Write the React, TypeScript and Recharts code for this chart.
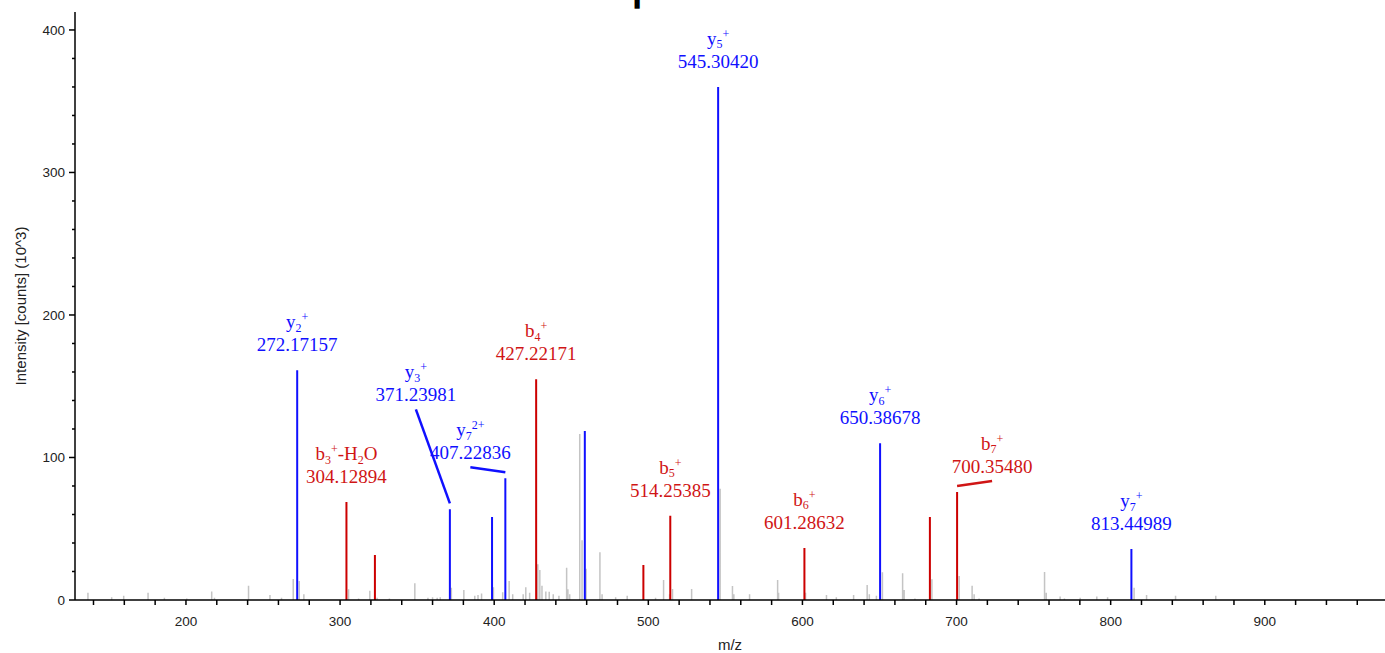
import { ComposedChart, Line, Scatter, XAxis, YAxis, Label } from "recharts";

// unassigned peaks (grey)
const grayMz = [
  136.4, 151.8, 159.6, 175.4, 186.0, 200.5, 216.7, 218.5, 240.6, 254.5, 262.0, 269.6, 273.5, 276.5,
  305.5, 312.0, 319.3, 324.0, 332.0, 348.5, 357.0, 360.0, 363.0, 365.0, 372.2, 380.3, 387.4, 389.5,
  391.8, 399.5, 405.5, 409.7, 412.0, 418.8, 420.5, 423.0, 428.3, 429.6, 431.0, 433.5, 435.7, 438.3,
  442.0, 447.0, 447.8, 449.0, 455.5, 457.0, 459.6, 468.6, 470.0, 478.8, 486.3, 504.7, 509.9, 513.8,
  515.7, 528.1, 546.6, 554.6, 555.5, 565.7, 583.9, 584.5, 602.0, 615.6, 622.0, 633.2, 642.0, 643.4,
  648.0, 651.9, 665.0, 666.0, 673.0, 684.0, 701.7, 710.1, 711.4, 714.6, 757.1, 758.2, 767.2, 770.0,
  780.2, 791.0, 798.0, 815.2, 823.3, 842.1, 868.2,
];
const grayInt = [
  5, 2, 3, 5, 1.5, 1, 6, 1.5, 10, 3.5, 1.5, 14.7, 13.3, 4,
  7.6, 1, 6.5, 1.5, 1, 11.7, 1.5, 2, 1.5, 2, 8.6, 7, 3, 3.5,
  4.5, 9, 5.5, 13.3, 4, 4, 9, 5, 25, 21, 10, 6, 5.8, 4,
  3, 22.7, 7.6, 4, 116.4, 42, 22, 33.5, 4, 2, 3, 1.5, 14, 4,
  7.7, 7.7, 78, 9.8, 4, 4, 14, 5, 5, 3.5, 2, 3.5, 10.5, 4,
  3, 19.4, 18.7, 7, 1, 14.5, 16.8, 10, 4, 1, 19.6, 5, 2.5, 1,
  1.5, 2.5, 2, 8.6, 3.5, 3, 3,
];

// b ions (red)
const bMz = [304.12894, 322.6, 427.22171, 496.8, 514.25385, 601.28632, 682.7, 700.3548];
const bInt = [68.7, 31.6, 154.9, 24.5, 59.2, 36.5, 58.2, 75.8];

// y ions (blue)
const yMz = [272.17157, 371.23981, 398.6, 407.22836, 458.8, 545.3042, 650.38678, 813.44989];
const yInt = [161.2, 63.6, 58.2, 85.4, 118.6, 360.0, 110.0, 35.7];

// annotations
const labelMz = [272.17157, 304.12894, 371.23981, 407.22836, 427.22171, 514.25385, 545.3042, 601.28632, 650.38678, 700.3548, 813.44989];
const labelIon = ["y_2^+", "b_3^+-H_2O", "y_3^+", "y_7^{2+}", "b_4^+", "b_5^+", "y_5^+", "b_6^+", "y_6^+", "b_7^+", "y_7^+"];
const labelText = ["272.17157", "304.12894", "371.23981", "407.22836", "427.22171", "514.25385", "545.30420", "601.28632", "650.38678", "700.35480", "813.44989"];

const xTicks = Array.from({ length: 42 }, (_, i) => 140 + i * 20);
const yTicks = Array.from({ length: 21 }, (_, i) => i * 20);

// labels moved off their peak, in px (dx, extra dy)
const labelShift: Record<string, [number, number]> = {
  "371.23981": [-34, -89],
  "407.22836": [-35, 0],
  "700.35480": [35, 0],
};

const BLUE = "#1010ff";
const RED = "#cc0000";
const GRAY = "#c4c4c4";
const SANS = "'Liberation Sans', Arial, sans-serif";
const SERIF = "'Liberation Serif', 'DejaVu Serif', serif";

const sticks = (mz: number[], inten: number[]) =>
  mz.flatMap((m, i) => [
    { mz: m, intensity: 0 },
    { mz: m, intensity: inten[i] },
    { mz: m, intensity: null },
  ]);

const labels = labelMz.map((m, i) => {
  const yi = yMz.indexOf(m);
  const bi = bMz.indexOf(m);
  return {
    mz: m,
    intensity: yi >= 0 ? yInt[yi] : bInt[bi],
    ion: labelIon[i],
    text: labelText[i],
    color: yi >= 0 ? BLUE : "#d01515",
  };
});

function ionParts(s: string) {
  const out: { t: string; k: string }[] = [];
  let i = 0;
  while (i < s.length) {
    const c = s[i];
    if (c === "_" || c === "^") {
      let t = "";
      if (s[i + 1] === "{") {
        const end = s.indexOf("}", i);
        t = s.slice(i + 2, end);
        i = end + 1;
      } else {
        t = s[i + 1];
        i += 2;
      }
      out.push({ t, k: c === "_" ? "sub" : "sup" });
    } else {
      let j = i;
      while (j < s.length && s[j] !== "_" && s[j] !== "^") j++;
      out.push({ t: s.slice(i, j), k: "n" });
      i = j;
    }
  }
  return out;
}

function IonText({ ion }: { ion: string }) {
  let cur = 0;
  return (
    <>
      {ionParts(ion).map((p, i) => {
        const target = p.k === "sub" ? 3.5 : p.k === "sup" ? -7 : 0;
        const dy = target - cur;
        cur = target;
        return (
          <tspan key={i} dy={dy} fontSize={p.k === "n" ? 19 : 12}>
            {p.t}
          </tspan>
        );
      })}
    </>
  );
}

const renderLabel = (props: any) => {
  const { cx, cy, payload } = props;
  if (cx == null || cy == null) return <g />;
  const [dx, dy] = labelShift[payload.text] || [0, 0];
  const lx = cx + dx;
  const base = cy - 19 + dy;
  return (
    <g>
      {dx !== 0 && (
        <line x1={lx} y1={base + 8} x2={cx} y2={cy - 6} stroke={payload.color} strokeWidth={2.5} />
      )}
      <text x={lx} y={base - 23} textAnchor="middle" fill={payload.color} fontFamily={SERIF} fontSize={19}>
        <IonText ion={payload.ion} />
      </text>
      <text x={lx} y={base} textAnchor="middle" fill={payload.color} fontFamily={SERIF} fontSize={19}>
        {payload.text}
      </text>
    </g>
  );
};

const YTick = (props: any) => {
  const { x, y, payload } = props;
  const major = payload.value % 100 === 0;
  return (
    <g>
      <line x1={x - (major ? 6 : 3)} y1={y} x2={x} y2={y} stroke="#000" strokeWidth={1.5} />
      {major && (
        <text x={x - 10} y={y} dy="0.35em" textAnchor="end" fill="#222" fontFamily={SANS} fontSize={13.5}>
          {payload.value}
        </text>
      )}
    </g>
  );
};

export default function App() {
  return (
    <div style={{ position: "absolute", left: 0, top: 0, width: 1385, height: 653, background: "#fff" }}>
      {/* title sits above the frame; only its foot shows */}
      <svg width={20} height={10} style={{ position: "absolute", left: 627, top: 0 }}>
        <text x={10} y={0} textAnchor="middle" fontFamily={SANS} fontWeight="bold" fontSize={40} fill="#000">
          |
        </text>
      </svg>
      <ComposedChart width={1385} height={653} margin={{ top: 12, right: 0, bottom: 0, left: 0 }}>
        <XAxis
          dataKey="mz"
          type="number"
          domain={[128, 978]}
          allowDataOverflow
          ticks={xTicks}
          interval={0}
          tickSize={5}
          tickMargin={11}
          height={53}
          axisLine={{ stroke: "#000", strokeWidth: 1.5 }}
          tickLine={{ stroke: "#000", strokeWidth: 1.5 }}
          tick={{ fill: "#222", fontFamily: SANS, fontSize: 13.5 }}
          tickFormatter={(v: number) => (v % 100 === 0 ? String(v) : "")}
        >
          <Label value="m/z" position="insideBottom" offset={3} fill="#222" fontFamily={SANS} fontSize={15} />
        </XAxis>
        <YAxis
          dataKey="intensity"
          type="number"
          domain={[0, 412.6]}
          allowDataOverflow
          ticks={yTicks}
          interval={0}
          width={75}
          tickSize={0}
          tickMargin={0}
          tickLine={false}
          axisLine={{ stroke: "#000", strokeWidth: 1.5 }}
          tick={<YTick />}
        >
          <Label
            content={(p: any) => {
              const vb = p.viewBox;
              const cx = vb.x + 20;
              const cy = vb.y + vb.height / 2;
              return (
                <text
                  x={cx}
                  y={cy}
                  transform={`rotate(-90 ${cx} ${cy})`}
                  textAnchor="middle"
                  dominantBaseline="central"
                  fill="#222"
                  fontFamily={SANS}
                  fontSize={15}
                >
                  Intensity [counts] (10^3)
                </text>
              );
            }}
          />
        </YAxis>
        <Line data={sticks(grayMz, grayInt)} dataKey="intensity" stroke={GRAY} strokeWidth={1.5} dot={false} activeDot={false} connectNulls={false} isAnimationActive={false} />
        <Line data={sticks(bMz, bInt)} dataKey="intensity" stroke={RED} strokeWidth={2} dot={false} activeDot={false} connectNulls={false} isAnimationActive={false} />
        <Line data={sticks(yMz, yInt)} dataKey="intensity" stroke={BLUE} strokeWidth={2} dot={false} activeDot={false} connectNulls={false} isAnimationActive={false} />
        <Scatter data={labels} dataKey="intensity" shape={renderLabel} isAnimationActive={false} />
      </ComposedChart>
    </div>
  );
}
